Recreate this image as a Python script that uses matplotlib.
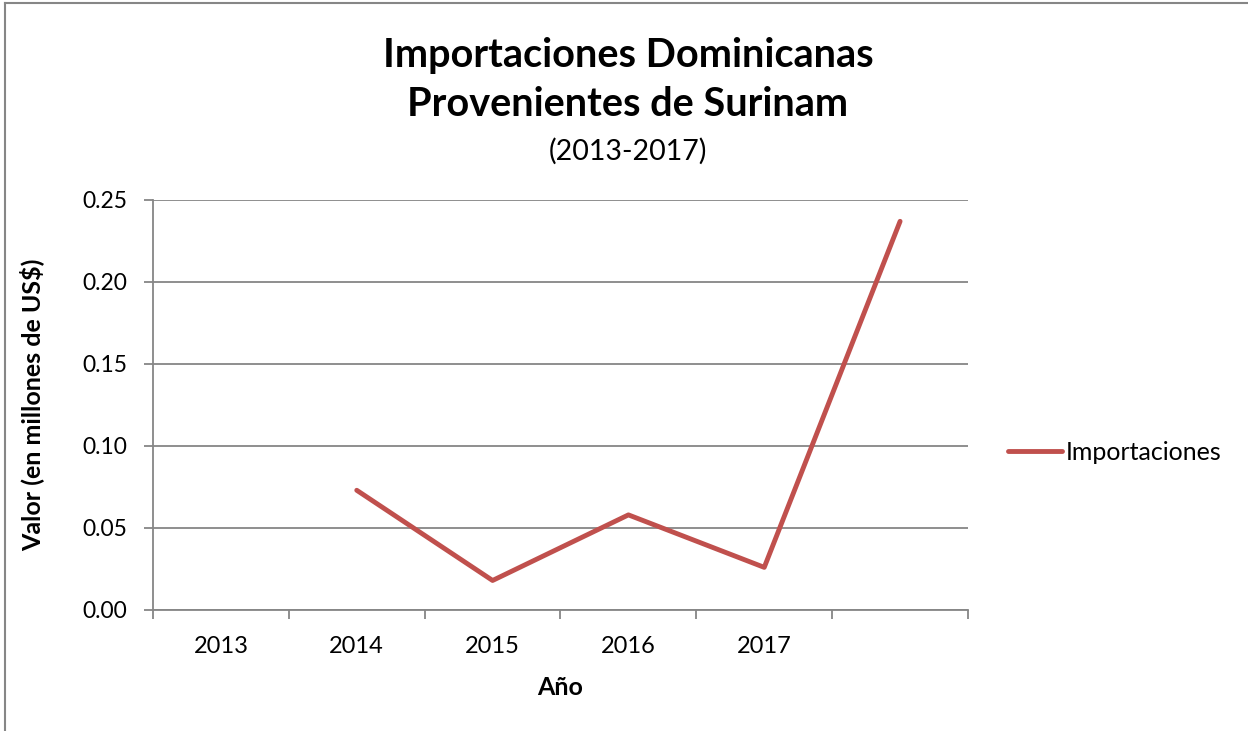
import matplotlib
matplotlib.use('Agg')
import matplotlib.pyplot as plt
from matplotlib.lines import Line2D
import numpy as np

plt.rcParams['font.family'] = ['Lato', 'DejaVu Sans']

# datos (la primera categoria esta vacia en el original)
categorias = ['2013', '2014', '2015', '2016', '2017', '']
importaciones = [np.nan, 0.073, 0.018, 0.058, 0.026, 0.237]
y_ticks = [0.00, 0.05, 0.10, 0.15, 0.20, 0.25]

gris = '#868686'
rojo = '#C0504D'

fig = plt.figure(figsize=(12.48, 7.31), dpi=100)
ax = fig.add_axes([153/1248, 1 - 610/731, (968 - 153)/1248, (610 - 200)/731])

x = np.arange(len(categorias))
ax.plot(x[1:], importaciones[1:], color=rojo, linewidth=3.5, solid_capstyle='round',
        label='Importaciones')

ax.set_xlim(-0.5, len(categorias) - 0.5)
ax.set_ylim(0, 0.25)
ax.set_yticks(y_ticks)
ax.set_yticklabels([f'{v:.2f}' for v in y_ticks])
ax.grid(axis='y', color=gris, linewidth=1.3)
ax.set_axisbelow(True)

# ticks del eje x en los limites de cada categoria, etiquetas al centro
ax.set_xticks(np.arange(-0.5, len(categorias)), minor=False)
ax.set_xticklabels([])
ax.set_xticks(x, minor=True)
ax.set_xticklabels(categorias, minor=True)
ax.tick_params(axis='x', which='major', length=6.5, width=1.3, color=gris, direction='out')
ax.tick_params(axis='x', which='minor', length=0, pad=19, labelsize=17)
ax.tick_params(axis='y', length=6.5, width=1.3, color=gris, direction='out', labelsize=16.5, pad=12)

for s in ['top', 'right']:
    ax.spines[s].set_visible(False)
for s in ['left', 'bottom']:
    ax.spines[s].set_color(gris)
    ax.spines[s].set_linewidth(1.3)

ax.set_xlabel('Año', fontsize=18, fontweight='bold')
ax.set_ylabel('Valor (en millones de US$)', fontsize=18, fontweight='bold')
ax.xaxis.set_label_coords(0.5, -0.16)
ax.yaxis.set_label_coords(-0.133, 0.5)

fig.text(628/1248, 1 - 55/731, 'Importaciones Dominicanas', ha='center', va='center',
         fontsize=28.5, fontweight='bold')
fig.text(628/1248, 1 - 104/731, 'Provenientes de Surinam', ha='center', va='center',
         fontsize=28.5, fontweight='bold')
fig.text(628/1248, 1 - 151/731, '(2013-2017)', ha='center', va='center', fontsize=20.5)

ax.legend(loc='center left', bbox_to_anchor=(1.049, 0.385), frameon=False, fontsize=18,
          handlelength=2.16, handletextpad=0.15, borderpad=0, borderaxespad=0)

# marco del grafico
fig.add_artist(Line2D([5/1248, 5/1248], [0, 1 - 3/731], color=gris, linewidth=1.5))
fig.add_artist(Line2D([5/1248, 1], [1 - 3/731, 1 - 3/731], color=gris, linewidth=1.5))

fig.savefig('out.png', dpi=100)
